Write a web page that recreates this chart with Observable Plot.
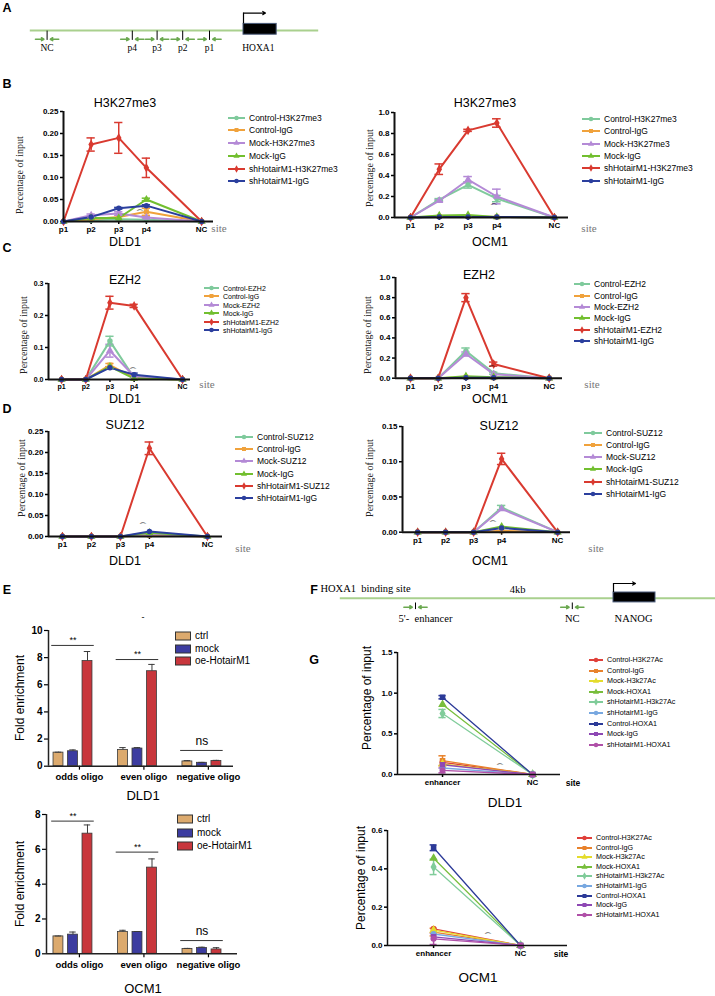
<!DOCTYPE html>
<html><head><meta charset="utf-8">
<script src="https://cdn.jsdelivr.net/npm/d3@7"></script>
<script src="https://cdn.jsdelivr.net/npm/@observablehq/plot@0.6"></script>
<style>
body{margin:0;background:#fff;}
#root{position:relative;width:715px;height:996px;overflow:hidden;font-family:"Liberation Sans",Arial,sans-serif;}
.abs{position:absolute;white-space:nowrap;line-height:1;}
</style></head><body><div id="root"></div><script>
// ---------------- DATA ----------------
const sites = ["p1","p2","p3","p4","NC"];
const sitePos = [0,1,2,3,5];
const seriesB = ["Control-H3K27me3","Control-IgG","Mock-H3K27me3","Mock-IgG","shHotairM1-H3K27me3","shHotairM1-IgG"];
const seriesC = ["Control-EZH2","Control-IgG","Mock-EZH2","Mock-IgG","shHotairM1-EZH2","shHotairM1-IgG"];
const seriesD = ["Control-SUZ12","Control-IgG","Mock-SUZ12","Mock-IgG","shHotairM1-SUZ12","shHotairM1-IgG"];

const dld1H3K27me3 = [[0,0.003,0.005,0.004,0],[0,0.005,0.010,0.022,0],[0,0.014,0.018,0.009,0],[0,0.008,0.008,0.050,0],[0,0.175,0.190,0.122,0],[0,0.010,0.030,0.036,0]];
const dld1H3K27me3Err = [[0,0,0,0,0],[0,0,0,0.008,0],[0,0.003,0.004,0.003,0],[0,0,0,0.003,0],[0,0.015,0.035,0.022,0],[0,0,0.002,0.002,0]];
const ocm1H3K27me3 = [[0,0.17,0.31,0.18,0],[0,0.01,0.01,0.005,0],[0,0.16,0.36,0.20,0],[0,0.02,0.025,0.005,0],[0,0.46,0.83,0.90,0],[0,0.005,0.005,0.005,0]];
const ocm1H3K27me3Err = [[0,0.01,0.03,0.03,0],[0,0,0,0,0],[0,0.01,0.03,0.07,0],[0,0,0,0,0],[0,0.05,0.01,0.04,0],[0,0,0,0,0]];
const dld1EZH2 = [[0,0,0.12,0.005,0],[0,0,0.045,0.005,0],[0,0,0.09,0.01,0],[0,0,0.04,0.003,0],[0,0,0.24,0.23,0],[0,0,0.037,0.015,0]];
const dld1EZH2Err = [[0,0,0.015,0,0],[0,0,0.005,0,0],[0,0,0.02,0,0],[0,0,0,0,0],[0,0,0.02,0.005,0],[0,0,0.003,0.005,0]];
const ocm1EZH2 = [[0,0,0.27,0.05,0],[0,0,0.01,0.005,0],[0,0,0.24,0.04,0],[0,0,0.02,0.01,0],[0,0,0.80,0.14,0],[0,0,0.005,0.005,0]];
const ocm1EZH2Err = [[0,0,0.03,0.01,0],[0,0,0,0,0],[0,0,0.02,0,0],[0,0,0,0,0],[0,0,0.04,0.02,0],[0,0,0,0,0]];
const dld1SUZ12 = [[0,0,0,0.004,0],[0,0,0,0.003,0],[0,0,0,0.006,0],[0,0,0,0.009,0],[0,0,0,0.210,0],[0,0,0,0.012,0]];
const dld1SUZ12Err = [[0,0,0,0,0],[0,0,0,0,0],[0,0,0,0,0],[0,0,0,0,0],[0,0,0,0.015,0],[0,0,0,0,0]];
const ocm1SUZ12 = [[0,0,0,0.035,0],[0,0,0,0.002,0],[0,0,0,0.033,0],[0,0,0,0.008,0],[0,0,0,0.104,0],[0,0,0,0.006,0]];
const ocm1SUZ12Err = [[0,0,0,0.003,0],[0,0,0,0,0],[0,0,0,0,0],[0,0,0,0,0],[0,0,0,0.008,0],[0,0,0,0,0]];

const groupsE = ["odds oligo","even oligo","negative oligo"];
const seriesE = ["ctrl","mock","oe-HotairM1"];
const dld1Fold = [[1.0,1.2,0.35],[1.1,1.3,0.25],[7.75,7.0,0.38]];
const dld1FoldErr = [[0.03,0.17,0.06],[0.1,0.07,0.03],[0.7,0.5,0.05]];
const dld1Sig = [8.9,7.86,1.16];
const ocm1Fold = [[1.0,1.25,0.28],[1.1,1.25,0.33],[6.9,4.95,0.25]];
const ocm1FoldErr = [[0.02,0.1,0.03],[0.15,0.03,0.05],[0.5,0.5,0.1]];
const ocm1Sig = [7.62,5.84,0.76];
const sigText = ["**","**","ns"];

const sitesG = ["enhancer","NC"];
const sitePosG = [0,1];
const seriesG = ["Control-H3K27Ac","Control-IgG","Mock-H3k27Ac","Mock-HOXA1","shHotairM1-H3k27Ac","shHotairM1-IgG","Control-HOXA1","Mock-IgG","shHotairM1-HOXA1"];
const dld1Enhancer = [0.15,0.17,0.13,0.86,0.75,0.08,0.95,0.12,0.05];
const dld1EnhancerErr = [0,0.06,0,0,0.05,0,0.02,0,0.03];
const dld1NC = [0,0,0,0,0,0,0,0,0];
const ocm1Enhancer = [0.087,0.07,0.08,0.455,0.41,0.06,0.51,0.045,0.035];
const ocm1EnhancerErr = [0,0.02,0,0,0.04,0,0.015,0,0.03];
const ocm1NC = [0,0,0,0,0,0,0,0,0];

// schematic map units (kb-like, relative to TSS)
const aSites = ["NC","p4","p3","p2","p1"];
const aSitePos = [-4.91,-2.78,-2.16,-1.52,-0.85];
const fSites = ["5'-  enhancer","NC"];
const fSitePos = [-4.95,-1.03];

// ---------------- STYLE ----------------
const SANS = '"Liberation Sans", Arial, sans-serif';
const SERIF = '"Liberation Serif", "Times New Roman", serif';
const lineColors = ["#7fca9c","#f0a23c","#b48ad6","#72bf2f","#d93a30","#2b3f9e"];
const lineSymbols = ["circle","square","triangle","triangle","diamond","circle"];
const colorsE = ["#dcaa6e","#3c3ca0","#c8363c"];
const colorsG = ["#e0403a","#e8822c","#e4dc2c","#78be3c","#80cc9a","#78a8e0","#2c3a98","#8e48b4","#b050a8"];
const symbolsG = ["circle","square","triangle","triangle","diamond","circle","square","square","circle"];

const root = document.getElementById("root");
function txt(s, x, y, o = {}) {
  const d = document.createElement("div");
  d.className = "abs"; d.textContent = s;
  d.style.left = x + "px"; d.style.top = y + "px";
  d.style.fontSize = (o.size || 10) + "px";
  d.style.fontFamily = o.family || SANS;
  d.style.fontWeight = o.weight || "normal";
  d.style.color = o.color || "#000";
  const tx = o.anchor === "start" ? "0" : o.anchor === "end" ? "-100%" : "-50%";
  d.style.transform = `translate(${tx},-50%)` + (o.rotate ? ` rotate(${o.rotate}deg)` : "");
  root.appendChild(d);
}
function place(node, left, top) {
  node.style.position = "absolute"; node.style.left = left + "px"; node.style.top = top + "px";
  root.appendChild(node);
}
const symMap = {circle: d3.symbolCircle, square: d3.symbolSquare, triangle: d3.symbolTriangle, diamond: d3.symbolDiamond};
function lineLegend(x, y, sp, names, colors, symbols, size, len) {
  names.forEach((n, i) => {
    const cy = y + i * sp;
    const svg = d3.create("svg").attr("width", len).attr("height", 8);
    svg.append("line").attr("x1", 0).attr("x2", len).attr("y1", 4).attr("y2", 4).attr("stroke", colors[i]).attr("stroke-width", 2);
    svg.append("path").attr("transform", `translate(${len / 2},4)`).attr("d", d3.symbol(symMap[symbols[i]], 16)()).attr("fill", colors[i]);
    place(svg.node(), x, cy - 4);
    txt(n, x + len + 4, cy, {size, anchor: "start"});
  });
}
function boxLegend(x, y, sp, names, colors, size) {
  names.forEach((n, i) => {
    const cy = y + i * sp;
    const svg = d3.create("svg").attr("width", 16).attr("height", 10);
    svg.append("rect").attr("x", 0.5).attr("y", 1).attr("width", 15).attr("height", 8).attr("fill", colors[i]).attr("stroke", "#333");
    place(svg.node(), x, cy - 5);
    txt(n, x + 20, cy, {size, anchor: "start"});
  });
}

function linePanel(c) {
  const [x0, x1, y0, y1] = c.frame;
  const ML = 40, MR = 6, MT = 8, MB = 20;
  const width = x1 - x0 + ML + MR, height = y1 - y0 + MT + MB;
  const rows = [];
  c.names.forEach((n, i) => c.positions.forEach((p, j) => rows.push({s: n, x: p, v: c.values[i][j], e: c.errors[i][j]})));
  const errs = rows.filter(d => d.e > 0);
  const cw = c.capW || 0.12, lw = c.lw || 2, aw = c.axisW || 2;
  const plot = Plot.plot({
    width, height, marginLeft: ML, marginRight: MR, marginTop: MT, marginBottom: MB,
    x: {domain: c.xDomain}, y: {domain: c.yDomain},
    color: {domain: c.names, range: c.colors}, symbol: {domain: c.names, range: c.symbols},
    style: {background: "transparent", overflow: "visible", fontFamily: SANS, color: "#000"},
    marks: [
      Plot.axisY({ticks: c.yTicks, tickFormat: c.yFormat, tickSize: 3, tickPadding: 2, fontSize: c.tickFont, fontWeight: "bold", label: null, strokeWidth: 1.5}),
      Plot.axisX({ticks: c.positions, tickFormat: d => c.labels[c.positions.indexOf(d)], tickSize: 3, tickPadding: 2, fontSize: c.tickFont, fontWeight: "bold", label: null, strokeWidth: 1.5}),
      Plot.ruleX(errs, {x: "x", y1: d => d.v - d.e, y2: d => d.v + d.e, stroke: "s", strokeWidth: 1.5}),
      Plot.ruleY(errs, {y: d => d.v + d.e, x1: d => d.x - cw, x2: d => d.x + cw, stroke: "s", strokeWidth: 1.5}),
      Plot.ruleY(errs, {y: d => d.v - d.e, x1: d => d.x - cw, x2: d => d.x + cw, stroke: "s", strokeWidth: 1.5}),
      Plot.line(rows, {x: "x", y: "v", z: "s", stroke: "s", strokeWidth: lw}),
      Plot.dot(rows, {x: "x", y: "v", fill: "s", stroke: "s", symbol: "s", r: c.r || 2}),
      Plot.ruleX([c.xDomain[0]], {strokeWidth: aw, stroke: "#111"}),
      Plot.ruleY([c.yDomain[0]], {strokeWidth: aw, stroke: "#111"})
    ]
  });
  place(plot, x0 - ML, y0 - MT);
}

function barPanel(c) {
  const [x0, x1, y0, y1] = c.frame;
  const ML = 40, MR = 6, MT = 20, MB = 22;
  const width = x1 - x0 + ML + MR, height = y1 - y0 + MT + MB;
  const rows = [];
  seriesE.forEach((s, b) => groupsE.forEach((g, gi) => rows.push({s, gi, c: gi + (b - 1) * 0.225 - 0.1, v: c.values[b][gi], e: c.errors[b][gi]})));
  const sig = groupsE.map((g, gi) => ({gi, y: c.sig[gi], t: sigText[gi]}));
  const hw = 0.077;
  const plot = Plot.plot({
    width, height, marginLeft: ML, marginRight: MR, marginTop: MT, marginBottom: MB,
    x: {domain: c.xDomain}, y: {domain: c.yDomain},
    color: {domain: seriesE, range: colorsE},
    style: {background: "transparent", overflow: "visible", fontFamily: SANS, color: "#000"},
    marks: [
      Plot.rectY(rows, {x1: d => d.c - hw, x2: d => d.c + hw, y1: 0, y2: "v", fill: "s", stroke: "#3a3a3a", strokeWidth: 0.8}),
      Plot.ruleX(rows, {x: "c", y1: "v", y2: d => d.v + d.e, stroke: "#3a3a3a", strokeWidth: 1}),
      Plot.ruleY(rows, {y: d => d.v + d.e, x1: d => d.c - 0.05, x2: d => d.c + 0.05, stroke: "#3a3a3a", strokeWidth: 1}),
      Plot.ruleY(sig, {y: "y", x1: d => d.gi - 0.43, x2: d => d.gi + 0.23, stroke: "#333", strokeWidth: 1}),
      Plot.text(sig.filter(d => d.t !== "ns"), {x: d => d.gi - 0.1, y: "y", text: "t", dy: -5, fontSize: 9}),
      Plot.text(sig.filter(d => d.t === "ns"), {x: d => d.gi - 0.1, y: "y", text: "t", dy: -9, fontSize: 12}),
      Plot.axisY({ticks: c.yTicks, tickFormat: "d", tickSize: 4, tickPadding: 2, fontSize: 10, fontWeight: "bold", label: null, strokeWidth: 1.2}),
      Plot.axisX({ticks: [0, 1, 2], tickFormat: i => groupsE[i], tickSize: 4, tickPadding: 3, fontSize: 9.5, fontWeight: "bold", label: null, strokeWidth: 1.2}),
      Plot.ruleX([c.xDomain[0]], {strokeWidth: 1.5, stroke: "#222"}),
      Plot.ruleY([0], {strokeWidth: 1.5, stroke: "#222"})
    ]
  });
  place(plot, x0 - ML, y0 - MT);
}

function schematic(c) {
  const sdata = c.sites.map((s, i) => ({s, x: c.pos[i]}));
  const green = "#6aa84f";
  const plot = Plot.plot({
    width: c.width, height: c.height, margin: 0,
    x: {domain: c.xDomain, range: [0, c.width], axis: null},
    y: {domain: [-1, 1], range: [c.yZero + 30, c.yZero - 30], axis: null},
    style: {background: "transparent", overflow: "visible", fontFamily: SERIF, color: "#000"},
    marks: [
      Plot.ruleY([0], {x1: c.lineSpan[0], x2: c.lineSpan[1], stroke: "#a9d08e", strokeWidth: 2}),
      Plot.rect([c.geneSpan], {x1: d => d[0], x2: d => d[1], y1: c.boxY[0], y2: c.boxY[1], fill: "#000", stroke: "#4a5b7a", strokeWidth: 1}),
      Plot.ruleX([c.geneSpan[0]], {y1: c.boxY[1], y2: c.arrowY, stroke: "#000", strokeWidth: 1.2}),
      Plot.arrow([c.geneSpan[0]], {x1: d => d, x2: c.arrowEnd, y1: c.arrowY, y2: c.arrowY, stroke: "#000", strokeWidth: 1.2, headLength: 4}),
      Plot.ruleX(sdata, {x: "x", y1: c.tickY[0], y2: c.tickY[1], stroke: "#000", strokeWidth: 1}),
      Plot.arrow(sdata, {x1: d => d.x - 0.29, x2: d => d.x - 0.08, y1: c.primerY, y2: c.primerY, stroke: green, strokeWidth: 1.6, headLength: 3.5}),
      Plot.arrow(sdata, {x1: d => d.x + 0.29, x2: d => d.x + 0.08, y1: c.primerY, y2: c.primerY, stroke: green, strokeWidth: 1.6, headLength: 3.5}),
      Plot.text(sdata, {x: d => d.x + (c.labelShift ? c.labelShift(d) : 0), y: c.labelY, text: "s", fontSize: c.fontSize}),
      Plot.text(c.texts, {x: "x", y: "y", text: "t", fontSize: c.fontSize, textAnchor: d => d.a || "middle"})
    ]
  });
  place(plot, c.left, c.top);
}

// ---------------- PANEL A ----------------
schematic({left: 0, top: 0, width: 330, height: 60, yZero: 30, xDomain: [-243 / 40, (330 - 243) / 40],
  lineSpan: [-5.33, 1.88], geneSpan: [0, 0.83], boxY: [-0.14, 0.22], arrowY: 0.58, arrowEnd: 0.55,
  sites: aSites, pos: aSitePos, tickY: [-0.02, -0.33], primerY: -0.29, labelY: -0.57, fontSize: 9.5,
  texts: [{x: 0.37, y: -0.57, t: "HOXA1"}]});

// ---------------- PANEL F ----------------
schematic({left: 320, top: 570, width: 395, height: 60, yZero: 27.7, xDomain: [(320 - 613) / 40, (715 - 613) / 40],
  lineSpan: [-6.83, 2.55], geneSpan: [0, 1.05], boxY: [-0.14, 0.19], arrowY: 0.49, arrowEnd: 0.55,
  sites: fSites, pos: fSitePos, tickY: [-0.16, -0.38], primerY: -0.3, labelY: -0.68, fontSize: 10.5,
  labelShift: d => d.s === "NC" ? 0 : 0.25,
  texts: [{x: -6.2, y: 0.32, t: "HOXA1  binding site", a: "start"}, {x: -2.4, y: 0.3, t: "4kb"}, {x: 0.5, y: -0.68, t: "NANOG"}]});

// ---------------- PANEL B ----------------
linePanel({frame: [63, 213, 111, 221], xDomain: [0, 5.43], yDomain: [0, 0.25], yTicks: [0, 0.05, 0.1, 0.15, 0.2, 0.25], yFormat: ".2f",
  positions: sitePos, labels: sites, names: seriesB, colors: lineColors, symbols: lineSymbols, values: dld1H3K27me3, errors: dld1H3K27me3Err, tickFont: 8, capW: 0.15});
linePanel({frame: [394, 568, 112, 217], xDomain: [-0.556, 5.49], yDomain: [0, 1], yTicks: [0, 0.2, 0.4, 0.6, 0.8, 1], yFormat: ".1f",
  positions: sitePos, labels: sites, names: seriesB, colors: lineColors, symbols: lineSymbols, values: ocm1H3K27me3, errors: ocm1H3K27me3Err, tickFont: 8, capW: 0.15});
lineLegend(228, 117.7, 12.7, seriesB, lineColors, lineSymbols, 8.5, 17);
lineLegend(582, 119, 12.3, seriesB, lineColors, lineSymbols, 8.5, 18);

// ---------------- PANEL C ----------------
linePanel({frame: [48, 190, 283, 379], xDomain: [-0.54, 5.33], yDomain: [0, 0.3], yTicks: [0, 0.1, 0.2, 0.3], yFormat: ".1f",
  positions: sitePos, labels: sites, names: seriesC, colors: lineColors, symbols: lineSymbols, values: dld1EZH2, errors: dld1EZH2Err, tickFont: 7, capW: 0.17});
linePanel({frame: [395, 562, 277, 377.7], xDomain: [-0.54, 5.48], yDomain: [0, 1], yTicks: [0, 0.2, 0.4, 0.6, 0.8, 1], yFormat: ".1f",
  positions: sitePos, labels: sites, names: seriesC, colors: lineColors, symbols: lineSymbols, values: ocm1EZH2, errors: ocm1EZH2Err, tickFont: 8, capW: 0.15});
lineLegend(204, 288, 8.4, seriesC, lineColors, lineSymbols, 7, 15);
lineLegend(574, 284.3, 11.3, seriesC, lineColors, lineSymbols, 8.5, 16);

// ---------------- PANEL D ----------------
linePanel({frame: [48, 222, 430.7, 535.7], xDomain: [-0.48, 5.52], yDomain: [0, 0.25], yTicks: [0, 0.05, 0.1, 0.15, 0.2, 0.25], yFormat: ".2f",
  positions: sitePos, labels: sites, names: seriesD, colors: lineColors, symbols: lineSymbols, values: dld1SUZ12, errors: dld1SUZ12Err, tickFont: 8, capW: 0.15});
linePanel({frame: [402, 570, 426, 531.7], xDomain: [-0.54, 5.46], yDomain: [0, 0.15], yTicks: [0, 0.05, 0.1, 0.15], yFormat: ".2f",
  positions: sitePos, labels: sites, names: seriesD, colors: lineColors, symbols: lineSymbols, values: ocm1SUZ12, errors: ocm1SUZ12Err, tickFont: 8, capW: 0.15});
lineLegend(235, 437, 12.2, seriesD, lineColors, lineSymbols, 8.5, 18);
lineLegend(584, 432.7, 12.2, seriesD, lineColors, lineSymbols, 8.5, 18);

// ---------------- PANEL E ----------------
barPanel({frame: [48, 233, 630, 765.7], xDomain: [-0.48, 2.39], yDomain: [0, 10], yTicks: [0, 2, 4, 6, 8, 10], values: dld1Fold, errors: dld1FoldErr, sig: dld1Sig});
barPanel({frame: [46, 237, 814, 953.3], xDomain: [-0.51, 2.45], yDomain: [0, 8], yTicks: [0, 2, 4, 6, 8], values: ocm1Fold, errors: ocm1FoldErr, sig: ocm1Sig});
boxLegend(175, 636, 12.5, seriesE, colorsE, 10);
boxLegend(177, 819, 13.5, seriesE, colorsE, 10);

// ---------------- PANEL G ----------------
linePanel({frame: [397, 560, 652, 774], xDomain: [-0.5, 1.31], yDomain: [0, 1.5], yTicks: [0, 0.5, 1, 1.5], yFormat: ".1f",
  positions: sitePosG, labels: sitesG, names: seriesG, colors: colorsG, symbols: symbolsG,
  values: seriesG.map((_, i) => [dld1Enhancer[i], dld1NC[i]]), errors: seriesG.map((_, i) => [dld1EnhancerErr[i], 0]),
  tickFont: 8, capW: 0.04, lw: 1.3, axisW: 1.5, r: 2.3});
linePanel({frame: [387, 567, 830, 945], xDomain: [-0.53, 1.54], yDomain: [0, 0.6], yTicks: [0, 0.2, 0.4, 0.6], yFormat: ".1f",
  positions: sitePosG, labels: sitesG, names: seriesG, colors: colorsG, symbols: symbolsG,
  values: seriesG.map((_, i) => [ocm1Enhancer[i], ocm1NC[i]]), errors: seriesG.map((_, i) => [ocm1EnhancerErr[i], 0]),
  tickFont: 8, capW: 0.04, lw: 1.3, axisW: 1.5, r: 2.3});
lineLegend(589, 660, 10.6, seriesG, colorsG, symbolsG, 7.2, 14);
lineLegend(577, 838, 9.6, seriesG, colorsG, symbolsG, 7.2, 15);

// ---------------- TEXT ----------------
const L = {size: 12.5, weight: "bold"};
txt("A", 7, 8, L); txt("B", 7, 84, L); txt("C", 7, 248, L); txt("D", 7, 409, L); txt("E", 7, 590, L);
txt("F", 314, 590, L); txt("G", 314, 660, L);
const T = {size: 12.5};
txt("H3K27me3", 125, 103, T); txt("H3K27me3", 485, 103, T);
txt("EZH2", 125, 280, T); txt("EZH2", 479, 275, T);
txt("SUZ12", 125, 425, T); txt("SUZ12", 499, 426, T);
txt("DLD1", 125, 242, T); txt("OCM1", 490, 242, T);
txt("DLD1", 125, 399, T); txt("OCM1", 490, 399, T);
txt("DLD1", 125, 561, T); txt("OCM1", 490, 561, T);
const Y = {size: 10, family: SERIF, rotate: -90, color: "#222"};
txt("Percentage of input", 20, 175, Y); txt("Percentage of input", 370, 168, Y);
txt("Percentage of input", 24, 335, Y); txt("Percentage of input", 368, 335, Y);
txt("Percentage of input", 22, 478, Y); txt("Percentage of input", 370, 478, Y);
const S = {size: 11, family: SERIF, color: "#777"};
txt("site", 219, 228, S); txt("site", 589, 228, S);
txt("site", 207, 384, S); txt("site", 592, 384, S);
txt("site", 243, 548, S); txt("site", 596, 548, S);
txt("Fold enrichment", 20, 698, {size: 12, rotate: -90});
txt("Fold enrichment", 20, 884, {size: 12, rotate: -90});
txt("-", 143, 617, {size: 9});
txt("DLD1", 143, 795, {size: 13}); txt("OCM1", 143, 988, {size: 13});
txt("Percentage of input", 367, 698, {size: 12, rotate: -90});
txt("Percentage of input", 361, 878, {size: 12, rotate: -90});
txt("site", 573, 783, {size: 8.5, weight: "bold"}); txt("site", 561, 954, {size: 8.5, weight: "bold"});
txt("DLD1", 505, 803, {size: 13.5}); txt("OCM1", 478, 978, {size: 13.5});
// small arc marks near the baseline, as in the original figure
const A = {size: 8, family: '"DejaVu Sans", sans-serif'};
[[140, 214], [494, 208], [133, 372], [492, 370], [143, 527], [493, 525], [500, 768], [488, 937]].forEach(([x, y]) => txt("⌒", x, y, A));
</script></body></html>
